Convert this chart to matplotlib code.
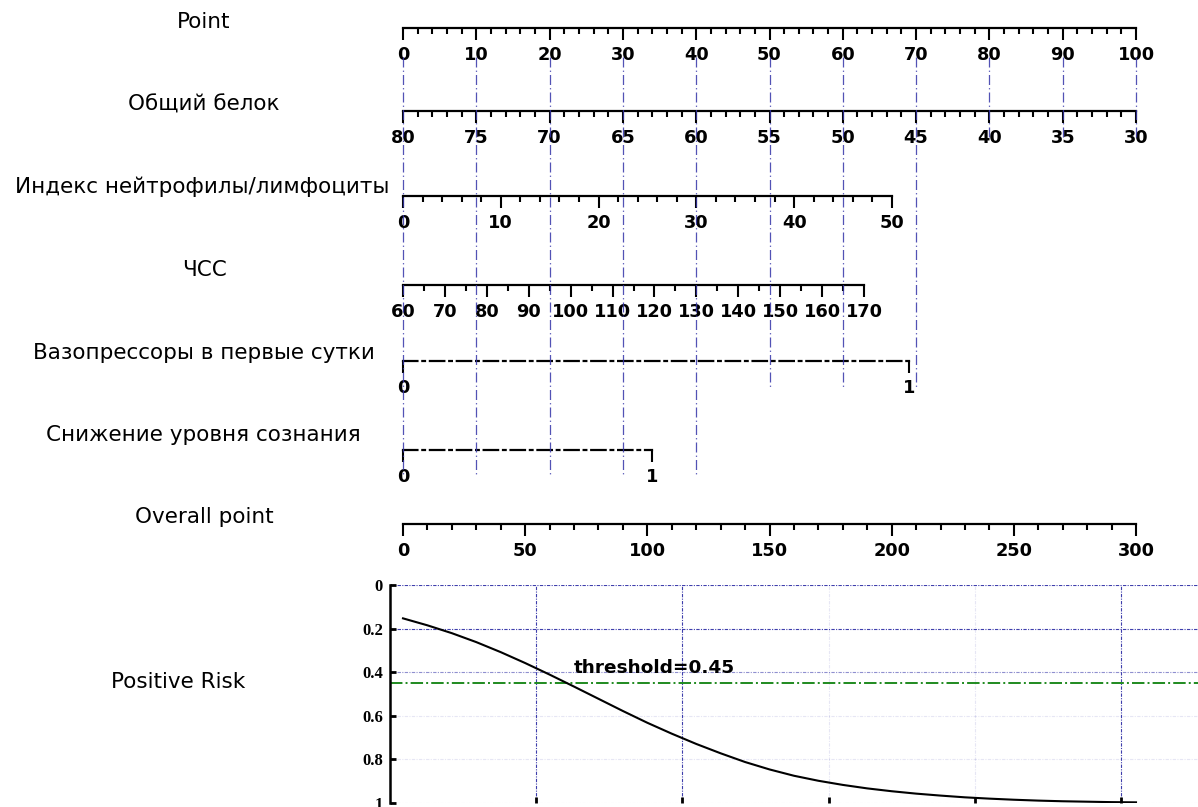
import numpy as np
import matplotlib.pyplot as plt

# nomogram scales (values shown on each axis)
point_ticks = [0, 10, 20, 30, 40, 50, 60, 70, 80, 90, 100]
protein_ticks = [80, 75, 70, 65, 60, 55, 50, 45, 40, 35, 30]
nlr_ticks = [0, 10, 20, 30, 40, 50]
hr_ticks = [60, 70, 80, 90, 100, 110, 120, 130, 140, 150, 160, 170]
vaso_ticks = [0, 1]
consc_ticks = [0, 1]
total_ticks = [0, 50, 100, 150, 200, 250, 300]

# points reached by the top value of each predictor
protein_pts = 100
nlr_pts = 66.7
hr_pts = 62.9
vaso_pts = 69
consc_pts = 34

row_names = ['Point', 'Общий белок', 'Индекс нейтрофилы/лимфоциты', 'ЧСС',
             'Вазопрессоры в первые сутки', 'Снижение уровня сознания',
             'Overall point', 'Positive Risk']

# risk curve (overall point -> risk)
total_pts = [0, 10, 20, 30, 40, 50, 60, 70, 80, 90, 100, 110, 120, 130, 140, 150,
             160, 170, 180, 190, 200, 210, 220, 230, 240, 250, 260, 270, 280, 290, 300]
risk = [0.153, 0.185, 0.221, 0.262, 0.308, 0.358, 0.411, 0.466, 0.522, 0.578, 0.632,
        0.682, 0.729, 0.772, 0.812, 0.846, 0.875, 0.898, 0.917, 0.933, 0.946, 0.957,
        0.966, 0.974, 0.980, 0.985, 0.989, 0.992, 0.994, 0.996, 0.997]
threshold = 0.45
risk_yticks = [0, 0.2, 0.4, 0.6, 0.8, 1]
risk_ylabels = ['0', '0.2', '0.4', '0.6', '0.8', '1']

# layout in pixels
W, H = 1198, 807
X0 = 403
PX_PER_PT = 733 / 100
row_y = [28, 111, 196, 285, 361, 450, 524]
label_xy = [(204, 22), (204, 105), (202, 187), (204, 270), (204, 353), (203, 435),
            (204, 517), (178, 682)]
navy = '#3434a8'

fig = plt.figure(figsize=(W / 100, H / 100), dpi=100)


def row_axis(y_px, pts_hi, lim, major, minor=None, dashed=False, pts_lo=0):
    x0 = X0 + pts_lo * PX_PER_PT
    w = (pts_hi - pts_lo) * PX_PER_PT
    ax = fig.add_axes([x0 / W, 1 - y_px / H, w / W, 0.5 / H])
    ax.set_xlim(*lim)
    ax.set_ylim(0, 1)
    for s in ['top', 'left', 'right']:
        ax.spines[s].set_visible(False)
    ax.spines['bottom'].set_linewidth(1.6)
    if dashed:
        ax.spines['bottom'].set_linestyle((0, (6.5, 2.2, 1.2, 2.2)))
    ax.set_xticks(major)
    ax.set_xticklabels([str(v) for v in major], fontweight='bold')
    if minor is not None:
        ax.set_xticks(minor, minor=True)
    ax.tick_params(axis='x', which='major', length=8.5, width=1.5, pad=4.5, labelsize=12.8)
    ax.tick_params(axis='x', which='minor', length=4.5, width=1.5)
    ax.set_yticks([])
    ax.patch.set_alpha(0)
    return ax


row_axis(row_y[0], 100, (0, 100), point_ticks, list(range(0, 101, 2)))
row_axis(row_y[1], protein_pts, (80, 30), protein_ticks, list(range(30, 81)))
row_axis(row_y[2], nlr_pts, (0, 50), nlr_ticks, list(range(0, 51, 2)))
row_axis(row_y[3], hr_pts, (60, 170), hr_ticks, list(range(60, 171, 5)))
row_axis(row_y[4], vaso_pts, (0, 1), vaso_ticks, dashed=True)
row_axis(row_y[5], consc_pts, (0, 1), consc_ticks, dashed=True)
# overall point axis: 0..300 over the same width as 0..100 points
ax_tot = fig.add_axes([X0 / W, 1 - row_y[6] / H, 733 / W, 0.5 / H])
ax_tot.set_xlim(0, 300)
for s in ['top', 'left', 'right']:
    ax_tot.spines[s].set_visible(False)
ax_tot.spines['bottom'].set_linewidth(1.6)
ax_tot.set_xticks(total_ticks)
ax_tot.set_xticklabels([str(v) for v in total_ticks], fontweight='bold')
ax_tot.set_xticks(list(range(0, 301, 10)), minor=True)
ax_tot.tick_params(axis='x', which='major', length=8.5, width=1.5, pad=4.5, labelsize=12.8)
ax_tot.tick_params(axis='x', which='minor', length=4.5, width=1.5)
ax_tot.set_yticks([])
ax_tot.patch.set_alpha(0)

# row labels
for name, (lx, ly) in zip(row_names, label_xy):
    fig.text(lx / W, 1 - ly / H, name, ha='center', va='center', fontsize=15.5)

# risk panel
left_pt = (390 - X0) / PX_PER_PT * 3
right_pt = (W - X0) / PX_PER_PT * 3
ax_r = fig.add_axes([390 / W, 1 - 803 / H, (W - 390) / W, (803 - 585) / H])
ax_r.set_xlim(left_pt, right_pt)
ax_r.set_ylim(1, 0)
for s in ['top', 'right', 'bottom']:
    ax_r.spines[s].set_visible(False)
ax_r.spines['left'].set_linewidth(1.8)
risk_xticks = [54.4 + 59.9 * k for k in range(5)]
ax_r.set_xticks(risk_xticks)
ax_r.set_xticklabels([])
ax_r.set_yticks(risk_yticks)
ax_r.set_yticklabels(risk_ylabels, fontfamily='Liberation Serif', fontweight='bold')
ax_r.tick_params(axis='both', direction='in', length=4, width=2, labelsize=12, pad=5)

grid_ls = (0, (3, 1.2, 1, 1.2))
for yv, a in zip(risk_yticks, [0.95, 0.95, 0.55, 0.12, 0.12, 0.12]):
    ax_r.axhline(yv, color=navy, lw=0.8, ls=grid_ls, alpha=a, zorder=1)
for xv, a in zip(risk_xticks, [0.95, 0.95, 0.12, 0.12, 0.95]):
    ax_r.axvline(xv, color=navy, lw=0.8, ls=grid_ls, alpha=a, zorder=1)
ax_r.axhline(threshold, color='#1f8a1f', lw=1.4, ls='-.', zorder=2)
ax_r.plot(total_pts, risk, color='black', lw=1.5, zorder=3)
ax_r.text(103, threshold - 0.03, 'threshold=' + str(threshold), ha='center', va='bottom',
          fontsize=13.3, fontweight='bold')

# vertical reading lines from the Point scale
ax_bg = fig.add_axes([0, 0, 1, 1])
ax_bg.set_xlim(-X0 / PX_PER_PT, (W - X0) / PX_PER_PT)
ax_bg.set_ylim(H, 0)
ax_bg.axis('off')
ax_bg.patch.set_alpha(0)
ax_bg.set_zorder(10)
row_max = [protein_pts, nlr_pts, hr_pts, vaso_pts, consc_pts]
for p in point_ticks:
    ends = [y for y, m in zip(row_y[1:6], row_max) if m > p - 10]
    ax_bg.vlines(p, 57, max(ends) + 26, color=navy, lw=0.9, ls=(0, (8, 2.5, 1, 2.5)), alpha=0.85)

fig.savefig('out.png', dpi=100)
